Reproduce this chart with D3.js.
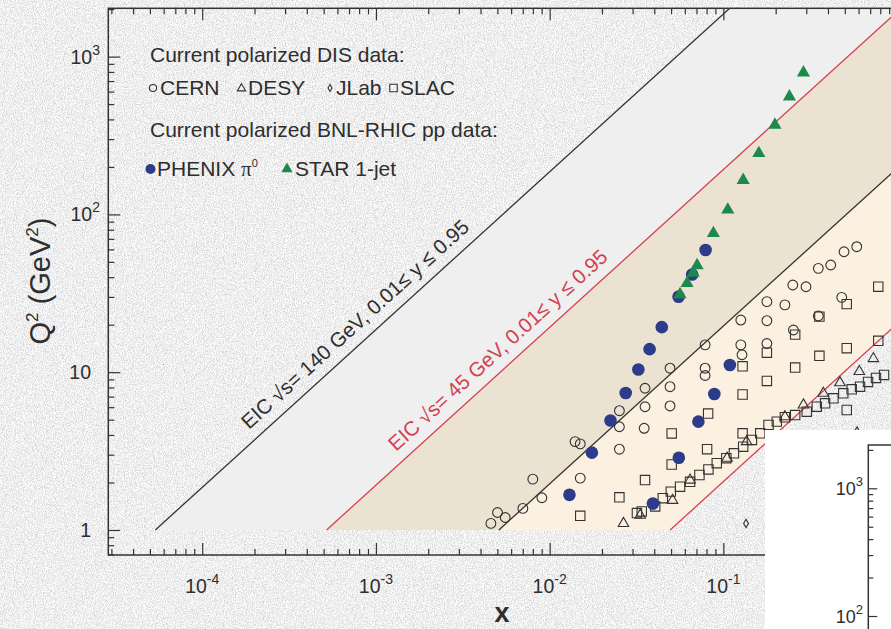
<!doctype html>
<html>
  <head>
    <meta charset="utf-8">
    <script src="https://cdnjs.cloudflare.com/ajax/libs/d3/7.8.5/d3.min.js"></script>
    <style>
      body { margin: 0; }
      svg { display: block; font-family: "Liberation Sans", Arial, Helvetica, sans-serif; }
      text { fill: #2e2e2e; }
      .axis path { display: none; }
      .axis line { stroke: #333; stroke-width: 1.2px; }
      .open { fill: none; stroke: #333; stroke-width: 1.1px; }
    </style>
  </head>
  <body>
    <svg width="891" height="629">
      <defs>
        <filter id="paper" x="0" y="0" width="1" height="1" color-interpolation-filters="sRGB">
          <feTurbulence type="fractalNoise" baseFrequency="1.1 0.7" numOctaves="2" seed="4"/>
          <feColorMatrix type="matrix" values="0.38 0 0 0 0.745  0.38 0 0 0 0.745  0.38 0 0 0 0.745  0 0 0 0 1"/>
        </filter>
        <clipPath id="plotClip"><rect x="108.3" y="8.3" width="788.8" height="546.7"></rect></clipPath>
      </defs>
    </svg>

    <script>
      // EIC kinematic reach: Q2 = x * y * s
      var sqrtS = [140, 45];
      var yCut = [0.01, 0.95];

      // [x, Q2]
      var cern = [
        [0.00459,1.10],[0.00501,1.29],[0.00555,1.20],[0.00701,1.37],[0.00800,2.10],[0.00902,1.60],
        [0.0140,3.63],[0.0150,3.51],[0.0150,2.13],
        [0.0252,5.70],[0.0252,4.51],[0.0252,3.25],
        [0.0354,7.91],[0.0354,6.04],[0.0350,4.41],
        [0.0493,10.6],[0.0493,8.09],[0.0493,6.11],
        [0.0785,14.9],[0.0785,10.6],[0.0785,9.53],
        [0.126,21.4],[0.126,14.9],[0.128,12.9],
        [0.178,28.0],[0.178,21.2],[0.178,15.2],
        [0.226,26.7],[0.251,35.7],[0.299,34.8],[0.352,45.5],[0.415,47.8],[0.495,58.0],[0.586,62.4],
        [0.480,29.8],[0.253,18.5],[0.352,22.7]
      ];
      var slac = [
        [0.0150,1.23],[0.0252,1.61],[0.0354,2.07],[0.0504,2.60],[0.0806,3.25],[0.0504,4.09],
        [0.0817,5.47],[0.129,7.22],[0.129,4.10],[0.178,8.80],[0.129,10.9],[0.178,13.3],
        [0.259,10.7],[0.357,12.7],[0.513,14.2],[0.779,15.8],[0.259,17.3],[0.357,22.5],
        [0.513,27.0],[0.779,34.8],[0.513,5.76],
        [0.0318,1.28],[0.0339,1.31],[0.0405,1.41],[0.0448,1.59],[0.0498,1.75],[0.0563,1.88],
        [0.0643,2.02],[0.0728,2.23],[0.0820,2.42],[0.0916,2.65],[0.104,2.85],[0.115,3.06],
        [0.130,3.37],[0.146,3.72],[0.163,4.10],[0.182,4.63],[0.203,4.86],[0.226,5.18],
        [0.259,5.35],[0.302,5.62],[0.345,6.04],[0.385,6.35],[0.430,6.83],[0.490,7.35],
        [0.548,7.79],[0.612,8.09],[0.680,8.67],[0.756,9.19],[0.841,9.60]
      ];
      var desy = [
        [0.0266,1.10],[0.0332,1.24],[0.0510,1.54],[0.0643,2.07],[0.105,2.85],[0.136,3.63],
        [0.226,5.22],[0.289,6.20],[0.376,7.35],[0.469,8.58],[0.606,10.1],[0.730,12.2],[0.588,4.12]
      ];
      var jlab = [[0.135,1.10]];
      var phenix = [
        [0.0130,1.67],[0.0175,3.09],[0.0224,4.94],[0.0274,7.38],[0.0324,10.4],[0.0376,14.0],
        [0.0442,19.3],[0.0552,30.1],[0.0661,41.6],[0.0790,59.5],
        [0.0393,1.47],[0.0554,2.87],[0.0718,4.86],[0.0887,7.27],[0.109,11.1]
      ];
      var star = [
        [0.0563,31.1],[0.0618,36.6],[0.0670,42.5],[0.0706,47.5],[0.0876,75.9],[0.106,107],
        [0.130,165],[0.160,244],[0.198,369],[0.240,557],[0.289,791]
      ];

      var xTickExp = [-4, -3, -2, -1];
      var yTickLabels = [[1, "1", ""], [10, "10", ""], [100, "10", "2"], [1000, "10", "3"]];

      var svg = d3.select("svg");
      var red = "#d4404f";

      var x = d3.scaleLog().domain([2.88e-5, 1]).range([108.3, 897.1]);
      var y = d3.scaleLog().domain([0.694, 2024]).range([555, 8.3]);

      // paper background
      svg.append("rect").attr("width", 891).attr("height", 629).attr("filter", "url(#paper)");

      var k = (rs, yc) => rs * rs * yc;
      var plot = svg.append("g").attr("clip-path", "url(#plotClip)");

      var bands = [
        [k(sqrtS[0], yCut[1]), k(sqrtS[1], yCut[1]), "#efefef"],
        [k(sqrtS[1], yCut[1]), k(sqrtS[0], yCut[0]), "#ece2d1"],
        [k(sqrtS[0], yCut[0]), k(sqrtS[1], yCut[0]), "#fcf1e0"]
      ];
      plot.selectAll("path.band")
        .data(bands)
        .enter()
        .append("path")
          .attr("class", "band")
          .attr("fill", d => d[2])
          .attr("d", d => d3.line()([[1/d[0],1],[1/d[1],1],[1e5/d[1],1e5],[1e5/d[0],1e5]]
            .map(p => [x(p[0]), y(p[1])])) + "Z");

      var lines = [];
      sqrtS.forEach((rs, i) => yCut.forEach(yc => lines.push({ k: k(rs, yc), c: i ? red : "#333" })));
      plot.selectAll("path.eic")
        .data(lines)
        .enter()
        .append("path")
          .attr("class", "eic")
          .attr("fill", "none")
          .attr("stroke", d => d.c)
          .attr("stroke-width", 1.3)
          .attr("d", d => d3.line()([[x(1/d.k), y(1)], [x(1e5/d.k), y(1e5)]]));

      // axes
      function minors(lo, hi, sc) {
        var v = [];
        for (var e = lo; e <= hi; e++) for (var m = 2; m <= 9; m++) v.push(m * Math.pow(10, e));
        var dm = sc.domain();
        return v.filter(t => t >= dm[0] && t <= dm[1]);
      }
      var xMajor = [1e-4, 1e-3, 1e-2, 1e-1, 1], yMajor = [1, 10, 100, 1000];
      var xMinor = minors(-5, -1, x), yMinor = minors(-1, 3, y);

      function ax(gen, sc, vals, size, tr) {
        svg.append("g").attr("class", "axis").attr("transform", tr)
          .call(gen(sc).tickValues(vals).tickSize(size).tickFormat(""));
      }
      ax(d3.axisBottom, x, xMajor, -12, "translate(0,555)");
      ax(d3.axisBottom, x, xMinor, -6, "translate(0,555)");
      ax(d3.axisTop, x, xMajor, -12, "translate(0,8.3)");
      ax(d3.axisTop, x, xMinor, -6, "translate(0,8.3)");
      ax(d3.axisLeft, y, yMajor, -12, "translate(108.3,0)");
      ax(d3.axisLeft, y, yMinor, -6, "translate(108.3,0)");

      svg.append("rect")
        .attr("x", 108.3).attr("y", 8.3).attr("width", 788.8).attr("height", 546.7)
        .attr("fill", "none").attr("stroke", "#333").attr("stroke-width", 1.5);

      xTickExp.forEach(e => {
        var t = svg.append("text").attr("x", x(Math.pow(10, e))).attr("y", 593)
          .attr("text-anchor", "middle").style("font-size", "19.5px");
        t.append("tspan").text("10");
        t.append("tspan").attr("dy", -9).style("font-size", "14px").text(e);
      });
      yTickLabels.forEach(d => {
        var t = svg.append("text").attr("x", d[2] ? 100 : 91).attr("y", y(d[0]) + 7)
          .attr("text-anchor", "end").style("font-size", "19.5px");
        t.append("tspan").text(d[1]);
        if (d[2]) t.append("tspan").attr("dy", -9).style("font-size", "14px").text(d[2]);
      });

      var yt = svg.append("text").attr("transform", "translate(50,281) rotate(-90)")
        .attr("text-anchor", "middle").style("font-size", "29px");
      yt.append("tspan").text("Q");
      yt.append("tspan").attr("dy", -12).style("font-size", "17px").text("2");
      yt.append("tspan").attr("dy", 12).text(" (GeV");
      yt.append("tspan").attr("dy", -12).style("font-size", "17px").text("2");
      yt.append("tspan").attr("dy", 12).text(")");

      svg.append("text").attr("x", 502).attr("y", 622).attr("text-anchor", "middle")
        .style("font-size", "27px").style("font-weight", "bold").text("x");

      // line labels
      var angle = kk => Math.atan2(y(kk * 1e-2) - y(kk * 1e-4), x(1e-2) - x(1e-4)) * 180 / Math.PI;
      var lineLabels = [
        { rs: sqrtS[0], at: 2.05e-4, c: "#2e2e2e" },
        { rs: sqrtS[1], at: 1.44e-3, c: red }
      ];
      lineLabels.forEach(d => {
        var kk = k(d.rs, yCut[1]);
        svg.append("text")
          .attr("transform", `translate(${x(d.at)},${y(kk * d.at)}) rotate(${angle(kk)})`)
          .attr("dy", -11)
          .style("font-size", "20.5px")
          .style("fill", d.c)
          .text(`EIC \u221As= ${d.rs} GeV, 0.01\u2264 y \u2264 0.95`);
      });

      // data markers
      function marks(data, type, size, cls, fill) {
        svg.append("g").selectAll("path")
          .data(data)
          .enter()
          .append("path")
            .attr("class", cls)
            .attr("transform", d => `translate(${x(d[0])},${y(d[1])})`)
            .attr("d", d3.symbol().type(type).size(size))
            .style("fill", fill);
      }
      marks(cern, d3.symbolCircle, 75, "open");
      marks(slac, d3.symbolSquare, 88, "open");
      marks(desy, d3.symbolTriangle, 48, "open");
      marks(jlab, d3.symbolDiamond, 20, "open");
      marks(phenix, d3.symbolCircle, 125, "", "#2d3c8a");
      marks(star, d3.symbolTriangle, 75, "", "#1d8a4b");

      // legend
      var lg = svg.append("g").style("font-size", "21px");
      lg.append("text").attr("x", 150).attr("y", 62).text("Current polarized DIS data:");
      lg.append("text").attr("x", 150).attr("y", 137).text("Current polarized BNL-RHIC pp data:");
      var legendItems = [
        { t: "CERN", sym: d3.symbolCircle, s: 40, cx: 153, cy: 88, tx: 160, cls: "open" },
        { t: "DESY", sym: d3.symbolTriangle, s: 30, cx: 241.5, cy: 88.5, tx: 248, cls: "open" },
        { t: "JLab", sym: d3.symbolDiamond, s: 14, cx: 330, cy: 88, tx: 336, cls: "open" },
        { t: "SLAC", sym: d3.symbolSquare, s: 56, cx: 393.5, cy: 88, tx: 400, cls: "open" },
        { t: "STAR 1-jet", sym: d3.symbolTriangle, s: 55, cx: 287, cy: 169, tx: 295, fill: "#1d8a4b" }
      ];
      legendItems.forEach(d => {
        lg.append("path").attr("class", d.cls || "")
          .attr("transform", `translate(${d.cx},${d.cy})`)
          .attr("d", d3.symbol().type(d.sym).size(d.s)())
          .style("fill", d.fill || null);
        lg.append("text").attr("x", d.tx).attr("y", d.cy < 100 ? 95 : 176).text(d.t);
      });
      lg.append("circle").attr("cx", 150.5).attr("cy", 169).attr("r", 5).attr("fill", "#2d3c8a");
      var ph = lg.append("text").attr("x", 157).attr("y", 176);
      ph.append("tspan").text("PHENIX ");
      ph.append("tspan").style("font-family", "'Liberation Serif', 'DejaVu Serif', serif").text("\u03C0");
      ph.append("tspan").attr("dy", -9).style("font-size", "11px").text("0");

      // edge of the neighbouring panel
      svg.append("rect").attr("x", 765).attr("y", 430).attr("width", 126).attr("height", 199).attr("fill", "#fff");
      var yIn = d3.scaleLog().domain([100, 1000]).range([616, 488.3]);
      var inMinor = [200, 300, 400, 500, 600, 700, 800, 900, 2000];
      svg.append("g").attr("class", "axis").attr("transform", "translate(868.3,0)")
        .call(d3.axisLeft(yIn).tickValues([100, 1000]).tickSize(-9).tickFormat(""));
      svg.append("g").attr("class", "axis").attr("transform", "translate(868.3,0)")
        .call(d3.axisLeft(yIn).tickValues(inMinor).tickSize(-5).tickFormat(""));
      svg.append("path").attr("d", "M868.3,629V445H891").attr("fill", "none")
        .attr("stroke", "#333").attr("stroke-width", 1.5);
      [[1000, "3"], [100, "2"]].forEach(d => {
        var t = svg.append("text").attr("x", 863).attr("y", yIn(d[0]) + 7)
          .attr("text-anchor", "end").style("font-size", "18px");
        t.append("tspan").text("10");
        t.append("tspan").attr("dy", -9).style("font-size", "13px").text(d[1]);
      });
    </script>
  </body>
</html>
